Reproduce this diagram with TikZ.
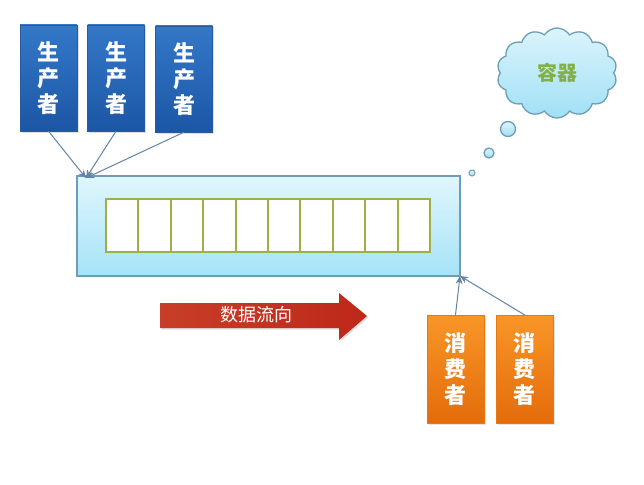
\documentclass[tikz,border=0pt]{standalone}
\usepackage{fontspec}
\newfontfamily\cjk{Noto Sans CJK SC}
\usetikzlibrary{shapes.symbols,shadows,arrows.meta}
\definecolor{bordblue}{HTML}{6E9EB6}
\definecolor{conncol}{HTML}{6383A8}
\tikzset{
  prod/.style={rectangle, minimum width=57pt, minimum height=106pt, inner sep=0pt,
    top color={rgb,255:red,52;green,120;blue,200}, bottom color={rgb,255:red,28;green,86;blue,166},
    draw={rgb,255:red,40;green,90;blue,160}, line width=0.4pt,
    drop shadow={opacity=0.25, shadow xshift=1.5pt, shadow yshift=-1.5pt},
    text=white, align=center, font=\cjk\fontsize{22}{26}\bfseries\selectfont},
  cons/.style={rectangle, minimum width=57pt, minimum height=108pt, inner sep=0pt,
    top color={rgb,255:red,248;green,150;blue,40}, bottom color={rgb,255:red,228;green,108;blue,10},
    draw={rgb,255:red,230;green,120;blue,20}, line width=0.4pt,
    drop shadow={opacity=0.2, shadow xshift=1.5pt, shadow yshift=-1.5pt},
    text=white, align=center, font=\cjk\fontsize{22}{26}\bfseries\selectfont},
  conn/.style={draw=conncol, line width=1pt, -{Stealth[length=8pt,width=7pt]}},
  cellbox/.style={draw={rgb,255:red,160;green,176;blue,64}, line width=2pt, fill=white},
  bubble/.style={draw=bordblue, line width=1.3pt, top color={rgb,255:red,220;green,244;blue,252}, bottom color={rgb,255:red,160;green,224;blue,246}},
}
\begin{document}
\begin{tikzpicture}[x=1pt,y=-1pt]
\useasboundingbox[fill=white] (0,0) rectangle (644,484);
% producers
\node[prod] (p1) at (48.5,78) {生\\产\\者};
\node[prod] (p2) at (116,78) {生\\产\\者};
\node[prod] (p3) at (184,79) {生\\产\\者};
% container
\node[rectangle, draw=bordblue, line width=1.3pt, minimum width=383pt, minimum height=100pt,
  top color={rgb,255:red,224;green,246;blue,252}, bottom color={rgb,255:red,165;green,227;blue,247},
  inner sep=0pt] (cont) at (268.5,226) {};
\foreach \i in {0,...,9} {
  \draw[cellbox] ({106+32.4*\i},199) rectangle ({106+32.4*(\i+1)},252);
}
\coordinate (cin) at (86,178);
\coordinate (cout) at (460,276);
\draw[conn] (p1.south) -- (cin);
\draw[conn] (p2.south) -- (cin);
\draw[conn] (p3.south) -- (cin);
% consumers
\node[cons] (c1) at (455.5,369) {消\\费\\者};
\node[cons] (c2) at (524.5,369) {消\\费\\者};
\draw[conn] (c1.north) -- (cout);
\draw[conn] (c2.north) -- (cout);
% flow arrow
\shade[left color={rgb,255:red,200;green,62;blue,40}, right color={rgb,255:red,190;green,40;blue,25},
  drop shadow={opacity=0.25, shadow xshift=1.5pt, shadow yshift=-1.5pt}]
  (160,303) -- (339,303) -- (339,293) -- (367,316) -- (339,340) -- (339,328) -- (160,328) -- cycle;
\node[text=white, font=\cjk\fontsize{18}{20}\selectfont] (flow) at (256,315) {数据流向};
% cloud
\node[cloud, cloud puffs=14, cloud puff arc=115, aspect=1.35, minimum width=120pt, minimum height=90pt,
  bubble, text={rgb,255:red,130;green,176;blue,70}, font=\cjk\fontsize{20}{22}\bfseries\selectfont] (cloud) at (557,73) {容器};
\node[circle, bubble, minimum size=15pt, inner sep=0pt] (b1) at (508,129) {};
\node[circle, bubble, minimum size=10pt, inner sep=0pt] (b2) at (489,153) {};
\node[circle, bubble, minimum size=6pt, inner sep=0pt, line width=1pt] (b3) at (472,173) {};
\end{tikzpicture}
\end{document}
